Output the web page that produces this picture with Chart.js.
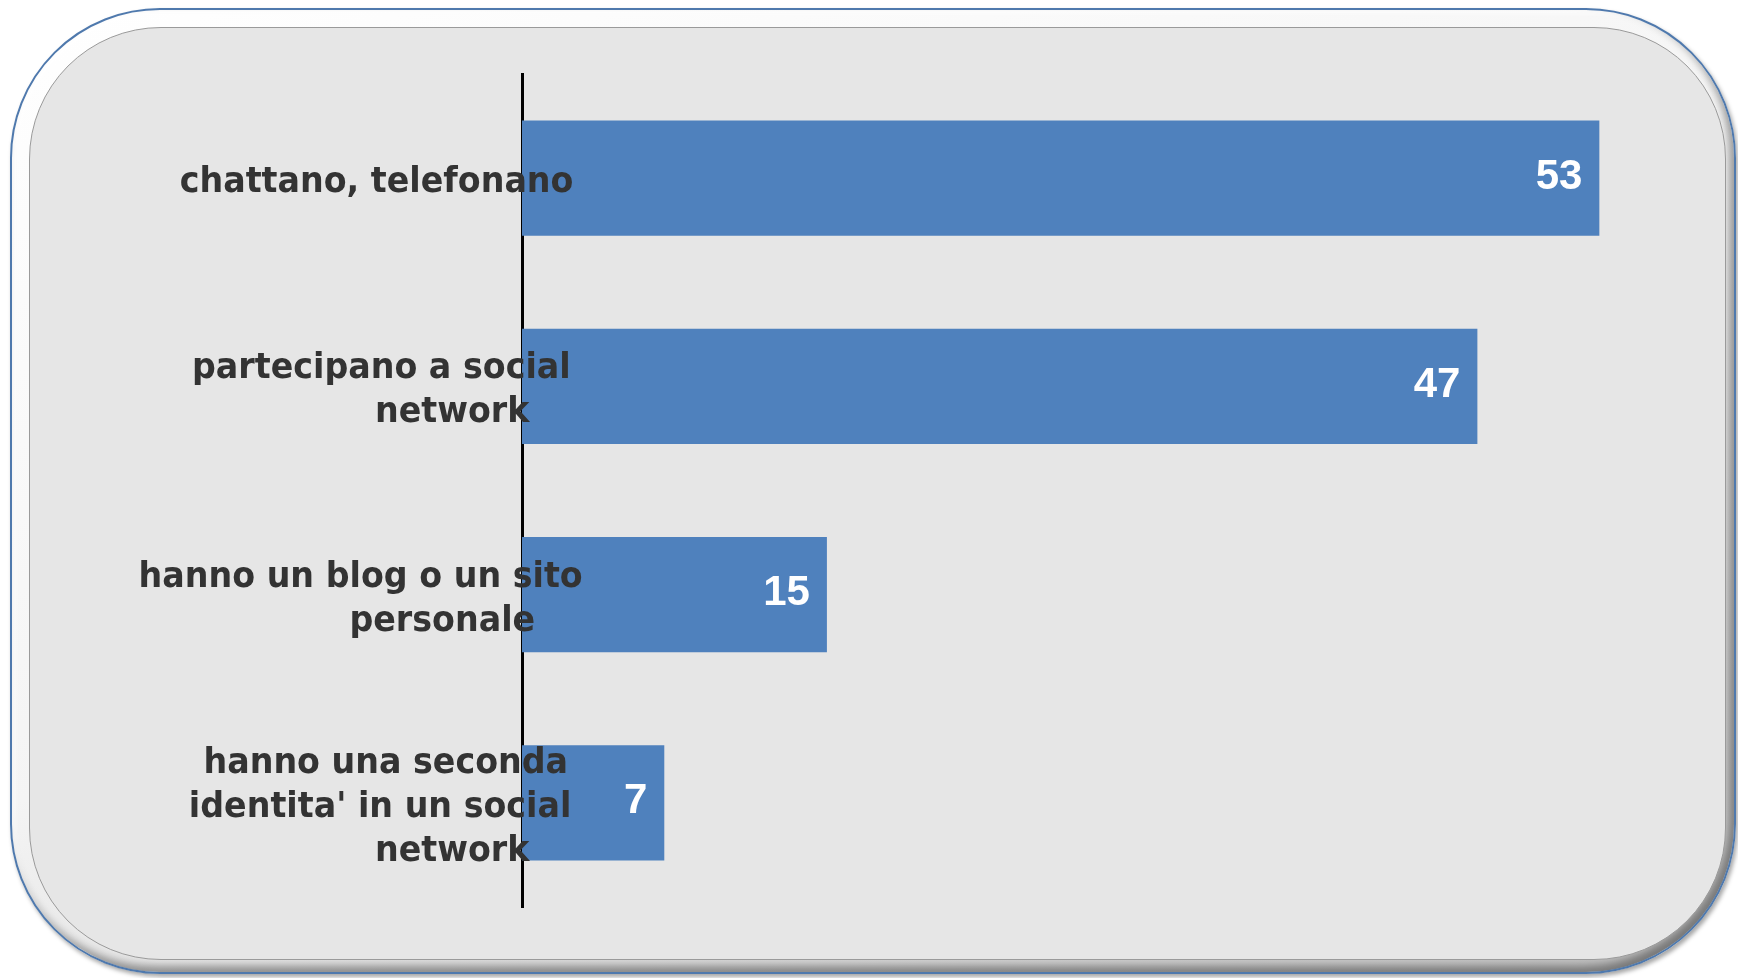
<!DOCTYPE html>
<html>
<head>
<meta charset="utf-8">
<script src="https://cdn.jsdelivr.net/npm/chart.js@4/dist/chart.umd.min.js"></script>
<style>
  html, body { margin: 0; padding: 0; background: #ffffff; width: 1738px; height: 978px; overflow: hidden; }
  #outer {
    position: absolute; left: 10px; top: 8px; width: 1726px; height: 966px;
    box-sizing: border-box; border-radius: 150px;
    border: 2px solid #4f79ad;
    background: linear-gradient(160deg, #ffffff 0%, #f4f4f4 50%, #bdbdbd 100%);
    box-shadow: 2px 3px 4px rgba(0,0,0,0.35), inset -5px -6px 8px rgba(0,0,0,0.38), inset 3px 3px 4px rgba(255,255,255,0.9);
  }
  #inner {
    position: absolute; left: 29px; top: 27px; width: 1697px; height: 933px;
    box-sizing: border-box; border-radius: 132px;
    border: 1px solid #9a9a9a;
    background: #e6e6e6;
  }
  #wrap { position: absolute; left: 0; top: 0; width: 1738px; height: 978px; }
</style>
</head>
<body>
<div id="outer"></div>
<div id="inner"></div>
<div id="wrap"><canvas id="c" width="1738" height="978"></canvas></div>
<script>
const categories = [
  ["chattano, telefonano"],
  ["partecipano a social", "network"],
  ["hanno un blog o un sito", "personale"],
  ["hanno una seconda", "identita' in un social", "network"]
];
const values = [53, 47, 15, 7];
const xMin = 0;
const xMax = 55;

const labelPlugin = {
  id: 'customLabels',
  afterDatasetsDraw(chart) {
    const ctx = chart.ctx;
    const yScale = chart.scales.y;
    const meta = chart.getDatasetMeta(0);
    ctx.save();
    // category labels (slightly compressed bold text)
    ctx.font = "bold 36px 'DejaVu Sans'";
    ctx.fillStyle = '#333333';
    ctx.textBaseline = 'alphabetic';
    ctx.textAlign = 'left';
    const sx = 0.925;
    const lineH = 44;
    const anchorRight = yScale.right - 21;
    categories.forEach((lines, i) => {
      const yc = yScale.getPixelForTick(i);
      const n = lines.length;
      lines.forEach((line, j) => {
        const w = ctx.measureText(line).width * sx;
        const y = yc + 14 + (j - (n - 1) / 2) * lineH;
        ctx.save();
        ctx.translate(anchorRight - w * 0.816, y);
        ctx.scale(sx, 1);
        ctx.fillText(line, 0, 0);
        ctx.restore();
      });
    });
    // value labels
    ctx.font = "bold 42px 'Liberation Sans', Arial";
    ctx.fillStyle = '#ffffff';
    ctx.textAlign = 'right';
    ctx.textBaseline = 'middle';
    meta.data.forEach((bar, i) => {
      ctx.fillText(String(values[i]), bar.x - 17, bar.y - 1);
    });
    ctx.restore();
  }
};

new Chart(document.getElementById('c'), {
  type: 'bar',
  data: {
    labels: categories,
    datasets: [{
      data: values,
      backgroundColor: '#4f81bd',
      borderWidth: 0,
      barPercentage: 0.553,
      categoryPercentage: 1.0
    }]
  },
  options: {
    indexAxis: 'y',
    responsive: false,
    animation: false,
    layout: { padding: { left: 522, top: 74, bottom: 71, right: 98 } },
    plugins: { legend: { display: false }, tooltip: { enabled: false } },
    scales: {
      x: { display: false, min: xMin, max: xMax },
      y: {
        display: true,
        afterFit(s) { s.width = 0; },
        ticks: { display: false },
        grid: { display: false, drawTicks: false },
        border: { display: true, color: '#000000', width: 3 }
      }
    }
  },
  plugins: [labelPlugin]
});
</script>
</body>
</html>
